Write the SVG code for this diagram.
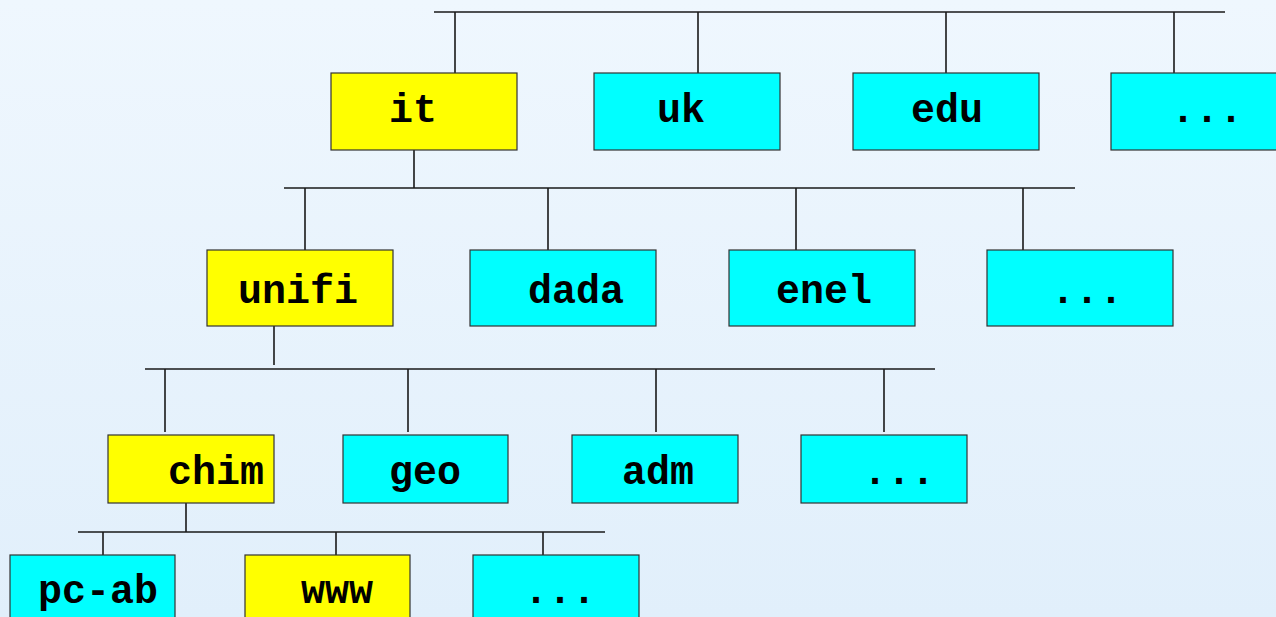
<svg xmlns="http://www.w3.org/2000/svg" width="1276" height="617" viewBox="0 0 1276 617">
<defs>
<linearGradient id="bg" x1="0" y1="0" x2="0" y2="1">
<stop offset="0" stop-color="#eff7fe"/>
<stop offset="1" stop-color="#e1effb"/>
</linearGradient>
<style>
.y{fill:#ffff00;stroke:#333;stroke-width:1.2}
.c{fill:#00ffff;stroke:#333;stroke-width:1.2}
.t{font-family:"Liberation Mono","Courier New",monospace;font-weight:bold;font-size:40px;fill:#000;text-anchor:middle}
.l{stroke:#1a1a1a;stroke-width:1.6;fill:none}
</style>
</defs>
<rect width="1276" height="617" fill="url(#bg)"/>
<g id="connectors" class="l">
<path d="M434 12H1225M455 12V73M698 12V73M946 12V73M1174 12V73"/>
<path d="M414 150V188M284 188H1075M305 188V250M548 188V250M796 188V250M1023 188V250"/>
<path d="M274 326V365M145 369H935M165 369V432M408 369V432M656 369V432M884 369V432"/>
<path d="M186 503V532M78 532H605M103 532V555M336 532V555M543 532V555"/>
</g>
<g id="n-it"><rect class="y" x="331" y="73" width="186" height="77"/><text class="t" x="413" y="122">it</text></g>
<g id="n-uk"><rect class="c" x="594" y="73" width="186" height="77"/><text class="t" x="681" y="122">uk</text></g>
<g id="n-edu"><rect class="c" x="853" y="73" width="186" height="77"/><text class="t" x="947" y="122">edu</text></g>
<g id="n-dots1"><rect class="c" x="1111" y="73" width="186" height="77"/><text class="t" x="1207" y="122">...</text></g>
<g id="n-unifi"><rect class="y" x="207" y="250" width="186" height="76"/><text class="t" x="298" y="303">unifi</text></g>
<g id="n-dada"><rect class="c" x="470" y="250" width="186" height="76"/><text class="t" x="576" y="303">dada</text></g>
<g id="n-enel"><rect class="c" x="729" y="250" width="186" height="76"/><text class="t" x="824" y="303">enel</text></g>
<g id="n-dots2"><rect class="c" x="987" y="250" width="186" height="76"/><text class="t" x="1087" y="303">...</text></g>
<g id="n-chim"><rect class="y" x="108" y="435" width="166" height="68"/><text class="t" x="216" y="484">chim</text></g>
<g id="n-geo"><rect class="c" x="343" y="435" width="165" height="68"/><text class="t" x="425" y="484">geo</text></g>
<g id="n-adm"><rect class="c" x="572" y="435" width="166" height="68"/><text class="t" x="658" y="484">adm</text></g>
<g id="n-dots3"><rect class="c" x="801" y="435" width="166" height="68"/><text class="t" x="899" y="484">...</text></g>
<g id="n-pcab"><rect class="c" x="10" y="555" width="165" height="70"/><text class="t" x="98" y="603">pc-ab</text></g>
<g id="n-www"><rect class="y" x="245" y="555" width="165" height="70"/><text class="t" x="337" y="603">www</text></g>
<g id="n-dots4"><rect class="c" x="473" y="555" width="166" height="70"/><text class="t" x="560" y="603">...</text></g>
</svg>
